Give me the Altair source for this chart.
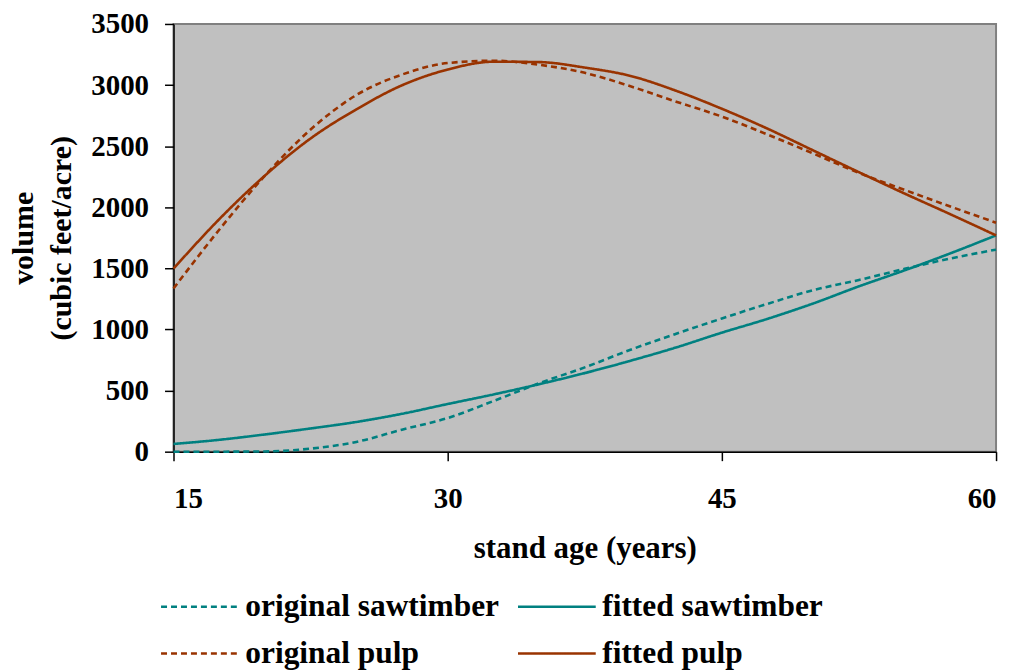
import altair as alt
import pandas as pd

# ---- data ----
age = [15, 17.5, 20, 22.5, 25, 27.5, 30, 32.5, 35, 37.5, 40, 42.5, 45, 47.5, 50, 52.5, 55, 57.5, 60]
original_sawtimber = [0, 0, 2, 25, 80, 180, 275, 414, 560, 690, 834, 965, 1090, 1210, 1322, 1405, 1496, 1581, 1653]
fitted_sawtimber = [63, 97, 141, 190, 243, 310, 390, 468, 552, 643, 744, 853, 974, 1087, 1213, 1353, 1484, 1623, 1770]
original_pulp = [1335, 1816, 2258, 2636, 2918, 3086, 3180, 3199, 3166, 3100, 2990, 2864, 2742, 2595, 2440, 2281, 2142, 2006, 1874]
fitted_pulp = [1498, 1902, 2259, 2563, 2801, 2998, 3127, 3191, 3188, 3143, 3075, 2953, 2806, 2643, 2465, 2287, 2112, 1943, 1770]

series_names = ["original sawtimber", "fitted sawtimber", "original pulp", "fitted pulp"]
series_values = [original_sawtimber, fitted_sawtimber, original_pulp, fitted_pulp]
series_colors = ["#008080", "#008080", "#993300", "#993300"]
series_dash = [[6, 4], [1, 0], [6, 4], [1, 0]]

x_ticks = [15, 30, 45, 60]
y_ticks = [0, 500, 1000, 1500, 2000, 2500, 3000, 3500]

rows = []
for name, vals in zip(series_names, series_values):
    for a, v in zip(age, vals):
        rows.append({"age": a, "volume": v, "series": name})
df = pd.DataFrame(rows)

FONT = "Liberation Serif"

legend = alt.Legend(
    title=None,
    orient="none",
    direction="horizontal",
    legendX=1,
    legendY=559,
    columns=2,
    columnPadding=13,
    rowPadding=6,
    symbolType="M-1.625,0H1.625",
    symbolSize=2304,
    symbolStrokeWidth=2.6,
    labelFont=FONT,
    labelFontSize=31.5,
    labelFontWeight="bold",
    labelColor="black",
    labelOffset=20,
    labelLimit=500,
    padding=0,
)

axis_common = dict(
    grid=False,
    labelFont=FONT,
    titleFont=FONT,
    labelFontWeight="bold",
    titleFontWeight="bold",
    labelColor="black",
    titleColor="black",
    domainColor="black",
    domainWidth=1.5,
    tickColor="black",
    tickWidth=1.5,
    tickSize=9,
    format="d",
)

chart = (
    alt.Chart(df)
    .mark_line(strokeWidth=2.6, interpolate="monotone")
    .encode(
        x=alt.X(
            "age:Q",
            scale=alt.Scale(domain=[15, 60], nice=False, zero=False),
            axis=alt.Axis(
                values=x_ticks,
                title="stand age (years)",
                labelFontSize=29,
                labelBaseline="alphabetic",
                labelPadding=47,
                titleFontSize=31,
                titleBaseline="alphabetic",
                titleY=106,
                **axis_common,
            ),
        ),
        y=alt.Y(
            "volume:Q",
            scale=alt.Scale(domain=[0, 3500], nice=False),
            axis=alt.Axis(
                values=y_ticks,
                title=["volume", "(cubic feet/acre)"],
                labelFontSize=29,
                labelPadding=16,
                titleFontSize=30,
                titleAngle=270,
                titleAlign="center",
                titleBaseline="alphabetic",
                titleX=-141,
                titleY=214.5,
                titleLineHeight=38,
                **axis_common,
            ),
        ),
        color=alt.Color(
            "series:N",
            scale=alt.Scale(domain=series_names, range=series_colors),
            legend=legend,
        ),
        strokeDash=alt.StrokeDash(
            "series:N",
            scale=alt.Scale(domain=series_names, range=series_dash),
            legend=legend,
        ),
    )
    .properties(
        width=825,
        height=429,
        autosize=alt.AutoSizeParams(type="none"),
        padding={"left": 166, "top": 15, "right": 14, "bottom": 228},
        background="white",
    )
    .configure_view(fill="#C0C0C0", stroke="#808080", strokeWidth=2)
)

chart.save("out.html", embed_options={"renderer": "svg", "actions": False})
